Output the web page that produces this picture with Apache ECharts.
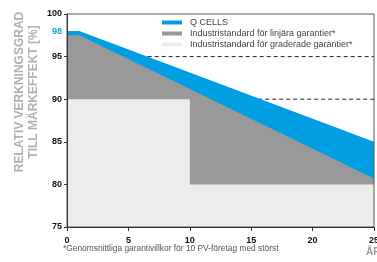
<!DOCTYPE html>
<html>
<head>
<meta charset="utf-8">
<script src="https://cdn.jsdelivr.net/npm/echarts@6/dist/echarts.min.js"></script>
<style>
  html, body { margin: 0; padding: 0; background: #fff; }
  #chart { width: 377px; height: 262px; }
</style>
</head>
<body>
<div id="chart"></div>
<script>
// data
var qcells = [[0, 98], [1, 98], [25, 85]];
var linear = [[0, 97.5], [1, 97.5], [25, 80.7]];
var graded = [[0, 90], [10, 90], [10, 80], [25, 80]];
var ref95 = [[6, 95], [25, 95]];
var ref90 = [[15, 90], [25, 90]];
var yTicks = [75, 80, 85, 90, 95, 100];
var yLabels = [75, 80, 85, 90, 95, 98, 100];
var names = ['Q CELLS', 'Industristandard för linjära garantier*', 'Industristandard för graderade garantier*'];

var chart = echarts.init(document.getElementById('chart'));
var font = '"Liberation Sans", Arial, sans-serif';

function area(name, data, color) {
  return {
    name: name,
    type: 'line',
    data: data,
    showSymbol: false,
    z: 2,
    lineStyle: { width: 0, color: color },
    itemStyle: { color: color },
    areaStyle: { color: color, opacity: 1, origin: 'start' },
    animation: false
  };
}
function dashed(data) {
  return {
    type: 'line',
    data: data,
    showSymbol: false,
    z: 1,
    silent: true,
    lineStyle: { width: 1, color: '#222', type: [4, 3] },
    animation: false
  };
}

chart.setOption({
  textStyle: { fontFamily: font },
  grid: {
    left: 67, top: 14, right: 3, height: 213,
    outerBoundsMode: 'none', containLabel: false,
    show: true, z: 10, backgroundColor: 'transparent',
    borderColor: '#555', borderWidth: 1
  },
  title: [
    {
      text: '*Genomsnittliga garantivillkor för 10 PV-företag med störst',
      left: 63, top: 245, padding: 0,
      textStyle: { fontSize: 8.4, fontWeight: 'normal', color: '#555', fontFamily: font }
    },
    {
      text: 'ÅR',
      left: 366, top: 247, padding: 0,
      textStyle: { fontSize: 10, fontWeight: 'bold', color: '#999', fontFamily: font }
    }
  ],
  graphic: [{
    type: 'text',
    x: 27, y: 92,
    rotation: Math.PI / 2,
    style: {
      text: 'RELATIV VERKNINGSGRAD\nTILL MÄRKEFFEKT [%]',
      fill: '#b0b0b0',
      font: 'bold 12px ' + font,
      align: 'center',
      verticalAlign: 'middle',
      lineHeight: 14
    }
  }],
  legend: {
    data: names,
    orient: 'vertical',
    left: 162, top: 18,
    itemWidth: 20, itemHeight: 4,
    itemGap: 2,
    icon: 'rect',
    padding: 0,
    textStyle: { fontSize: 9, color: '#444', lineHeight: 9, padding: [0, 0, 0, 3] }
  },
  xAxis: {
    type: 'value', min: 0, max: 25, interval: 5, z: 11,
    axisLine: { onZero: false, lineStyle: { color: '#333', width: 1 } },
    axisTick: { show: true, length: 4, lineStyle: { color: '#333' } },
    axisLabel: { fontSize: 9, fontWeight: 'bold', color: '#111', margin: 9 },
    splitLine: { show: false }
  },
  yAxis: {
    type: 'value', min: 75, max: 100, interval: 5, z: 11,
    axisLine: { show: true, onZero: false, lineStyle: { color: '#333', width: 1 } },
    axisTick: { show: true, length: 3, lineStyle: { color: '#333' }, customValues: yTicks },
    axisLabel: {
      fontSize: 9, fontWeight: 'bold', color: '#111', margin: 5,
      customValues: yLabels,
      formatter: function (v) { return v === 98 ? '{b|98}' : String(v); },
      rich: { b: { color: '#1aa0e0', fontSize: 9, fontWeight: 'bold' } }
    },
    splitLine: { show: false }
  },
  series: [
    dashed(ref95),
    dashed(ref90),
    area(names[0], qcells, '#009fe3'),
    area(names[1], linear, '#999999'),
    area(names[2], graded, '#ececec')
  ]
});
</script>
</body>
</html>
